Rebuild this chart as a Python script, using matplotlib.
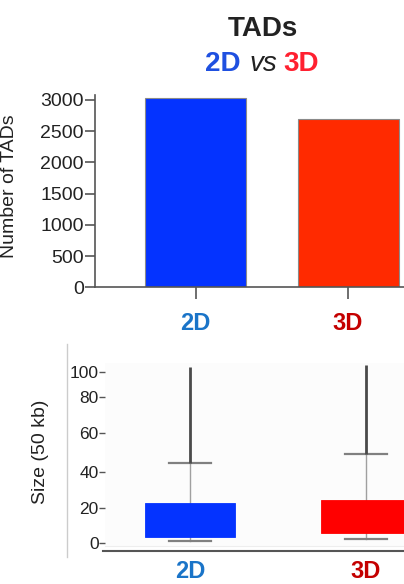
import numpy as np
import matplotlib
matplotlib.use("Agg")
import matplotlib.pyplot as plt
from matplotlib.lines import Line2D

plt.rcParams['font.family'] = ['Liberation Sans', 'DejaVu Sans']

# ---------------- data ----------------
groups = ["2D", "3D"]
tad_counts = [3030, 2690]
count_ticks = [0, 500, 1000, 1500, 2000, 2500, 3000]

size_q1 = [3.8, 6.1]
size_med = [10.0, 12.0]
size_q3 = [22.8, 24.6]
size_whislo = [1.3, 2.3]
size_whishi = [44.6, 49.4]
size_max = [104.5, 105.8]
size_ticks = [0, 20, 40, 60, 80, 100]

# ---------------- style ----------------
bar_colors = ["#0433ff", "#ff2a00"]
box_colors = ["#0433ff", "#ff0000"]
label_colors = ["#1a74c8", "#c40000"]
text_dark = "#222222"

W, H = 404, 584
fig = plt.figure(figsize=(W / 100, H / 100), dpi=100)

def fx(px):
    return px / W

def fy(py):
    return 1 - py / H

# ---------------- title ----------------
fig.text(fx(263), fy(36), "TADs", ha="center", va="baseline", fontsize=20,
         fontweight="bold", color=text_dark)
fig.text(fx(222.5), fy(71), "2D", ha="center", va="baseline", fontsize=20,
         fontweight="bold", color="#1f50e0")
fig.text(fx(263.5), fy(71), "vs", ha="center", va="baseline", fontsize=20,
         fontstyle="italic", color=text_dark)
fig.text(fx(301.5), fy(71), "3D", ha="center", va="baseline", fontsize=20,
         fontweight="bold", color="#ff2030")

# ---------------- top bar chart ----------------
ax1 = fig.add_axes([fx(95), fy(287.3), fx(W - 95), fy(95) - fy(287.3)])
x = np.arange(len(groups))
ax1.bar(x, tad_counts, width=0.662, color=bar_colors, edgecolor="#8a8a8a",
        linewidth=0.8, zorder=2)
ax1.set_xlim(-0.659, 1.367)
ax1.set_ylim(0, 3080)
ax1.set_yticks(count_ticks)
ax1.tick_params(axis="y", labelsize=14, length=7, width=1.2, color="#555555",
                labelcolor=text_dark, pad=1)
ax1.set_xticks(x)
ax1.set_xticklabels(groups, fontsize=17, fontweight="bold")
for lab, c in zip(ax1.get_xticklabels(), label_colors):
    lab.set_color(c)
ax1.tick_params(axis="x", length=8.5, width=1.2, color="#555555", pad=9)
for s in ["top", "right"]:
    ax1.spines[s].set_visible(False)
for s in ["left", "bottom"]:
    ax1.spines[s].set_color("#555555")
    ax1.spines[s].set_linewidth(1.2)
ax1.set_ylabel("Number of TADs", fontsize=14, color=text_dark)
ax1.yaxis.set_label_coords((18.3 - 95) / (W - 95), (287.3 - 186) / (287.3 - 95))

# ---------------- bottom box plot ----------------
yk = np.array([0, 20, 40, 60, 80, 100], float)
pk = np.array([0, 35, 71, 110, 146, 171], float)

def fwd(v):
    v = np.asarray(v, float)
    out = np.interp(v, yk, pk)
    out = np.where(v < 0, v * 35 / 20, out)
    out = np.where(v > 100, 171 + (v - 100) * 25 / 20, out)
    return out

def inv(p):
    p = np.asarray(p, float)
    out = np.interp(p, pk, yk)
    out = np.where(p < 0, p * 20 / 35, out)
    out = np.where(p > 171, 100 + (p - 171) * 20 / 25, out)
    return out

ax2 = fig.add_axes([fx(105), fy(546), fx(W - 105), fy(363) - fy(546)])
ax2.set_facecolor("#fcfcfc")
ax2.set_yscale("function", functions=(fwd, inv))

stats = []
for i, g in enumerate(groups):
    stats.append(dict(label=g, q1=size_q1[i], med=size_med[i], q3=size_q3[i],
                      whislo=size_whislo[i], whishi=size_whishi[i], fliers=[]))
bp = ax2.bxp(stats, positions=x, widths=0.511, capwidths=0.244,
             patch_artist=True, showfliers=False,
             whiskerprops=dict(color="#a0a0a0", linewidth=1.0),
             capprops=dict(color="#808080", linewidth=1.6),
             medianprops=dict(linewidth=0),
             boxprops=dict(linewidth=0.6))
for patch, c in zip(bp["boxes"], box_colors):
    patch.set_facecolor(c)
    patch.set_edgecolor(c)
    patch.set_zorder(3)
ax2.vlines(x, size_whishi, size_max, color="#4a4a4a", linewidth=2.0, zorder=2)

ax2.set_xlim(-0.483, 1.216)
ax2.set_ylim(-1.5, 107.4)
ax2.set_yticks(size_ticks)
ax2.tick_params(axis="y", labelsize=12.5, length=4, width=1.0, color="#555555",
                labelcolor=text_dark, pad=0.5)
ax2.set_xticks(x)
ax2.set_xticklabels(groups, fontsize=17, fontweight="bold")
for lab, c in zip(ax2.get_xticklabels(), label_colors):
    lab.set_color(c)
ax2.tick_params(axis="x", length=0, pad=10)
for s in ["top", "right", "left"]:
    ax2.spines[s].set_visible(False)
ax2.spines["bottom"].set_color("#eeeeee")
ax2.set_ylabel("Size (50 kb)", fontsize=14, color=text_dark)
ax2.yaxis.set_label_coords((49 - 105) / (W - 105), (546 - 451.7) / (546 - 363))

# decorative frame lines
fig.add_artist(Line2D([fx(67), fx(67)], [fy(344), fy(557)], color="#cccccc",
                      linewidth=1.0))
fig.add_artist(Line2D([fx(103), fx(W)], [fy(550.7), fy(550.7)], color="#555555",
                      linewidth=1.5))

fig.savefig("out.png", dpi=100)
